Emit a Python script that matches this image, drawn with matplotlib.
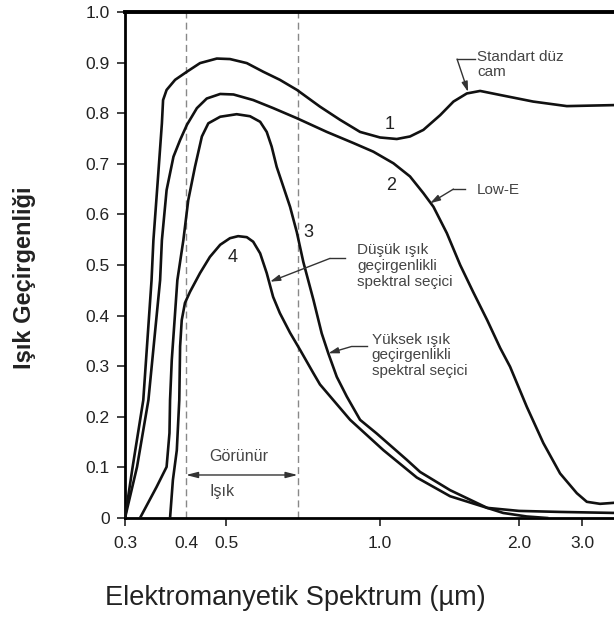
import numpy as np
import matplotlib
matplotlib.use("Agg")
from matplotlib import pyplot as plt

plt.rcParams['font.family'] = ['Liberation Sans', 'DejaVu Sans']

# wavelength (um) / transmittance
wl_1 = [0.300, 0.311, 0.327, 0.340, 0.343, 0.351, 0.357, 0.359, 0.365, 0.380, 0.402,
        0.4325, 0.475, 0.509, 0.549, 0.591, 0.637, 0.688, 0.763, 0.835, 0.914, 1.000,
        1.087, 1.161, 1.241, 1.349, 1.442, 1.541, 1.647, 1.820, 2.189, 2.719, 3.687]
tr_1 = [0.000, 0.101, 0.233, 0.470, 0.549, 0.681, 0.780, 0.826, 0.846, 0.866, 0.882,
        0.899, 0.908, 0.907, 0.899, 0.882, 0.866, 0.846, 0.813, 0.787, 0.763, 0.752,
        0.749, 0.754, 0.767, 0.796, 0.823, 0.839, 0.844, 0.836, 0.823, 0.814, 0.816]

wl_2 = [0.300, 0.3175, 0.335, 0.354, 0.357, 0.365, 0.377, 0.389, 0.402, 0.425, 0.449,
        0.484, 0.517, 0.565, 0.6185, 0.688, 0.787, 0.887, 0.970, 1.069, 1.161, 1.241,
        1.305, 1.395, 1.491, 1.590, 1.706, 1.820, 1.912, 2.101, 2.338, 2.604, 2.900,
        3.093, 3.369, 3.687]
tr_2 = [0.000, 0.101, 0.233, 0.470, 0.549, 0.648, 0.714, 0.747, 0.777, 0.810, 0.829,
        0.838, 0.837, 0.826, 0.810, 0.790, 0.763, 0.741, 0.724, 0.701, 0.675, 0.642,
        0.615, 0.563, 0.500, 0.447, 0.391, 0.336, 0.299, 0.220, 0.148, 0.088, 0.049,
        0.032, 0.028, 0.030]

wl_3 = [0.322, 0.348, 0.365, 0.370, 0.371, 0.374, 0.379, 0.384, 0.395, 0.405, 0.4205,
        0.437, 0.453, 0.484, 0.5245, 0.557, 0.583, 0.6005, 0.614, 0.628, 0.647, 0.667,
        0.6875, 0.708, 0.741, 0.769, 0.7925, 0.823, 0.861, 0.914, 0.985, 1.1425, 1.221,
        1.418, 1.706, 1.847, 2.101, 2.395]
tr_3 = [0.000, 0.061, 0.101, 0.168, 0.233, 0.312, 0.391, 0.470, 0.549, 0.628, 0.694,
        0.754, 0.780, 0.793, 0.798, 0.794, 0.783, 0.763, 0.734, 0.694, 0.655, 0.615,
        0.565, 0.506, 0.431, 0.365, 0.325, 0.279, 0.240, 0.194, 0.167, 0.115, 0.091,
        0.055, 0.020, 0.010, 0.003, 0.000]

wl_4 = [0.371, 0.376, 0.383, 0.3875, 0.389, 0.392, 0.398, 0.409, 0.4325, 0.457, 0.484,
        0.509, 0.528, 0.549, 0.565, 0.583, 0.6005, 0.618, 0.637, 0.667, 0.698, 0.740,
        0.763, 0.874, 1.017, 1.201, 1.418, 1.706, 2.0, 2.604, 3.687]
tr_4 = [0.000, 0.075, 0.134, 0.233, 0.339, 0.391, 0.425, 0.447, 0.484, 0.516, 0.540,
        0.553, 0.557, 0.555, 0.546, 0.523, 0.484, 0.437, 0.405, 0.366, 0.332, 0.287,
        0.264, 0.194, 0.134, 0.080, 0.043, 0.020, 0.014, 0.012, 0.010]

x_ticks = [0.3, 0.4, 0.5, 1.0, 2.0, 3.0]
x_tick_labels = ['0.3', '0.4', '0.5', '1.0', '2.0', '3.0']
y_ticks = [0, 0.1, 0.2, 0.3, 0.4, 0.5, 0.6, 0.7, 0.8, 0.9, 1.0]
visible = [0.4, 0.69]

# the printed axis is a hand drawn, not quite logarithmic scale
knot_wl = np.log10([0.2, 0.3, 0.4, 0.5, 1.0, 2.0, 3.0, 5.0])
knot_pos = np.array([-86.0, 0.0, 61.0, 101.0, 255.0, 394.0, 457.0, 536.0])


def fwd(x):
    x = np.clip(np.asarray(x, dtype=float), 1e-3, None)
    return np.interp(np.log10(x), knot_wl, knot_pos)


def inv(p):
    return 10 ** np.interp(np.asarray(p, dtype=float), knot_pos, knot_wl)


fig = plt.figure(figsize=(6.14, 6.18), dpi=100)
ax = fig.add_axes([125 / 614, 1 - 518 / 618, 1 - 125 / 614, (518 - 12) / 618])
ax.set_xscale('function', functions=(fwd, inv))

lc = '#111111'
for wl, tr in [(wl_1, tr_1), (wl_2, tr_2), (wl_3, tr_3), (wl_4, tr_4)]:
    ax.plot(wl, tr, color=lc, lw=1.9, solid_joinstyle='round', zorder=3)

for v in visible:
    ax.axvline(v, color='#888888', lw=1.0, ls=(0, (5, 3)), zorder=1)

ax.set_xlim(0.3, 3.687)
ax.set_ylim(0, 1.0)
ax.set_xticks(x_ticks)
ax.set_xticklabels(x_tick_labels)
ax.set_yticks(y_ticks)
ax.set_yticklabels(['0' if t == 0 else '%.1f' % t for t in y_ticks])
ax.xaxis.set_minor_locator(matplotlib.ticker.NullLocator())
ax.get_xticklines()[2].set_visible(False)
ax.tick_params(axis='both', direction='out', length=6, width=1.2, colors='#222222',
               labelsize=12.5)
ax.tick_params(axis='x', pad=7)
ax.tick_params(axis='y', pad=5)

ax.spines['right'].set_visible(False)
ax.spines['top'].set_linewidth(2.8)
ax.spines['left'].set_linewidth(2.0)
ax.spines['bottom'].set_linewidth(2.0)

tc = '#444444'
arr = dict(arrowstyle='-|>,head_length=0.6,head_width=0.18', color='#333333', lw=1.0,
           shrinkA=0, shrinkB=0)

# visible range marker
ax.annotate('', xy=(0.4, 0.085), xytext=(0.69, 0.085),
            arrowprops=dict(arrowstyle='<|-|>,head_length=0.7,head_width=0.18',
                            color='#333333', lw=1.0, shrinkA=0, shrinkB=0))
ax.text(0.4548, 0.122, 'Görünür', fontsize=11.5, color=tc, va='center', ha='left')
ax.text(0.457, 0.053, 'Işık', fontsize=11.5, color=tc, va='center', ha='left')

# curve numbers
for s, x, y in [('1', 1.051, 0.777), ('2', 1.056, 0.658), ('3', 0.723, 0.565),
                ('4', 0.5146, 0.514)]:
    ax.text(x, y, s, fontsize=13, color='#222222', ha='center', va='center')

# labelled leaders
ax.text(1.623, 0.925, 'Standart düz\ncam', fontsize=11, color=tc, va='top', ha='left',
        linespacing=1.1)
ax.plot([1.607, 1.468], [0.907, 0.907], color='#333333', lw=1.0)
ax.annotate('', xy=(1.551, 0.842), xytext=(1.468, 0.907), arrowprops=arr)

ax.text(1.62, 0.648, 'Low-E', fontsize=11, color=tc, va='center', ha='left')
ax.plot([1.528, 1.4416], [0.650, 0.650], color='#333333', lw=1.0)
ax.annotate('', xy=(1.283, 0.622), xytext=(1.4416, 0.650), arrowprops=arr)

ax.text(0.902, 0.543, 'Düşük ışık\ngeçirgenlikli\nspektral seçici', fontsize=11,
        color=tc, va='top', ha='left', linespacing=1.15)
ax.plot([0.854, 0.798], [0.513, 0.513], color='#333333', lw=1.0)
ax.annotate('', xy=(0.6095, 0.467), xytext=(0.798, 0.513), arrowprops=arr)

ax.text(0.9634, 0.366, 'Yüksek ışık\ngeçirgenlikli\nspektral seçici', fontsize=11,
        color=tc, va='top', ha='left', linespacing=1.15)
ax.plot([0.942, 0.880], [0.339, 0.339], color='#333333', lw=1.0)
ax.annotate('', xy=(0.7925, 0.3255), xytext=(0.880, 0.339), arrowprops=arr)

fig.text(25 / 614, 1 - 278 / 618, 'Işık Geçirgenliği', rotation=90, fontsize=17,
         fontweight='bold', color='#222222', ha='center', va='center')
fig.text(295 / 614, 0.032, 'Elektromanyetik Spektrum (µm)', fontsize=19.5,
         color='#222222', ha='center', va='center')

fig.savefig('out.png', dpi=100)
